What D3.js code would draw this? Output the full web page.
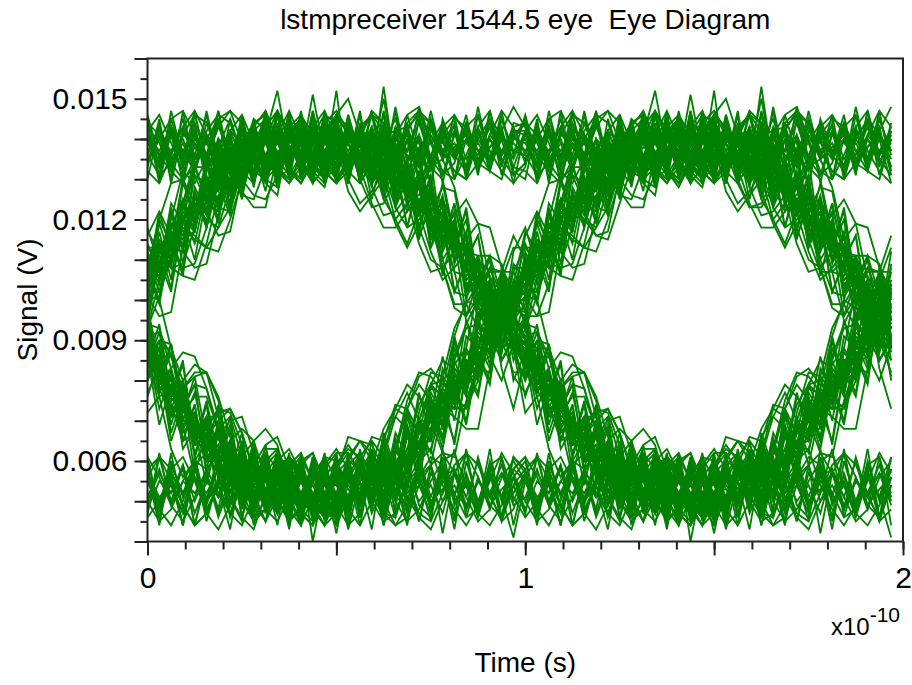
<!DOCTYPE html>
<html>
<head>
<meta charset="utf-8">
<script src="https://cdn.jsdelivr.net/npm/d3@7"></script>
<style>
  body { margin: 0; background: #fff; }
  svg { display: block; }
  text { font-family: "Liberation Sans", Arial, sans-serif; fill: #000; }
</style>
</head>
<body>
<svg id="chart" width="912" height="685"></svg>
<script>
// Receiver output waveform, one row per bit period, 32 samples per bit.
// Values in units of 0.1 mV (138 -> 0.0138 V).
const samplesPerBit = 32;
const bitTime = 1;            // bit period, in units of 1e-10 s
const valueUnit = 1e-4;       // volts per stored unit
const waveformRows = [
  [140,134,143,137,132,141,138,145,135,139,133,142,136,141,134,139,135,143,135,140,128,133,128,131,118,121,112,115,100,101,99,88],
  [90,78,79,68,72,63,68,56,58,49,59,52,56,49,55,59,50,57,49,57,55,65,58,68,68,68,81,79,92,89,99,96],
  [108,106,119,116,126,121,131,137,131,137,133,143,136,139,133,142,136,144,135,140,132,142,137,146,134,141,136,143,133,138,141,135],
  [142,136,132,141,139,134,144,135,140,137,143,133,138,135,143,137,140,134,143,133,135,126,133,124,127,114,116,103,108,98,100,90],
  [83,86,75,77,65,68,57,62,63,52,55,47,57,51,58,49,56,48,59,52,46,55,57,50,54,47,58,51,60,49,53,56],
  [48,55,52,59,50,57,46,54,58,51,56,47,55,57,50,54,55,48,58,53,62,57,63,61,75,71,80,77,88,95,93,105],
  [101,113,112,123,119,127,135,126,136,135,141,135,143,136,141,133,142,137,132,139,132,136,125,128,116,122,111,114,103,103,90,93],
  [84,85,72,76,68,70,59,54,59,59,52,59,49,55,48,56,49,56,53,60,54,58,66,60,72,71,82,78,88,88,102,99],
  [107,115,111,122,118,128,127,136,133,139,132,140,135,143,136,132,141,137,142,134,139,145,135,140,133,142,136,132,141,144,136,139],
  [135,140,133,142,138,136,144,134,141,137,143,132,140,135,151,136,139,133,141,142,134,140,137,144,135,131,141,139,136,143,134,140],
  [139,134,143,136,141,132,140,137,142,135,144,136,133,141,135,140,133,141,135,132,139,130,132,123,120,123,110,112,104,94,99,89],
  [89,79,81,67,71,62,67,56,60,53,49,57,52,59,50,54,49,56,51,58,47,55,52,57,48,61,50,54,46,56,51,58],
  [55,48,57,52,59,50,54,47,56,51,58,49,53,60,50,55,42,57,51,56,48,59,52,55,49,58,50,54,47,57,51,56],
  [50,57,52,58,47,55,51,59,49,54,56,48,55,52,57,49,58,51,57,51,59,57,67,64,65,77,75,85,81,93,93,104],
  [103,114,111,120,117,129,128,135,132,141,134,139,142,134,140,137,143,135,140,132,142,137,141,134,144,136,139,133,140,135,145,137],
  [136,143,134,139,132,141,137,142,135,144,133,140,137,142,135,139,139,134,140,134,139,128,131,121,126,117,117,105,107,97,96,96],
  [91,78,79,69,72,60,66,58,54,60,50,55,47,56,51,58,51,58,51,56,52,64,60,68,65,75,76,87,83,95,91,102],
  [109,107,116,113,123,129,125,136,132,140,136,133,141,135,144,136,134,140,142,133,136,129,133,121,125,115,113,113,101,105,93,94],
  [82,83,76,77,66,70,60,63,52,56,60,50,55,48,55,57,54,49,59,51,56,46,55,58,50,53,57,48,55,52,59,50],
  [57,51,54,47,58,50,55,52,60,49,56,51,48,55,50,58,50,55,50,60,56,63,57,67,73,70,78,80,91,87,99,98],
  [106,107,118,116,125,122,134,130,136,131,141,136,141,137,142,133,140,134,143,137,141,132,142,136,139,144,135,140,133,141,137,142],
  [134,141,137,143,135,140,132,142,139,136,144,134,141,137,133,140,142,135,139,136,150,134,140,137,143,135,138,141,132,140,136,142],
  [141,136,142,133,139,135,143,137,140,134,141,152,136,139,132,142,135,140,137,143,134,141,136,133,142,139,135,144,137,140,134,141],
  [137,142,135,140,133,144,136,139,134,141,132,143,138,140,134,141,141,136,138,141,130,133,126,130,121,114,119,107,108,97,97,90],
  [88,77,82,70,70,63,66,55,60,54,56,49,59,50,54,48,57,50,56,54,60,55,66,63,70,78,74,84,82,94,95,102],
  [102,112,109,122,120,129,125,133,133,141,134,140,136,143,137,134,140,135,141,131,137,130,131,122,127,116,117,104,106,104,93,88],
  [85,84,73,75,67,69,59,65,52,57,53,57,50,57,51,55,48,56,52,59,54,62,61,61,72,71,81,79,88,90,100,98],
  [110,108,117,114,124,125,133,128,135,134,142,134,140,136,141,134,144,135,139,133,141,137,142,136,132,140,143,135,139,134,141,137],
  [140,133,141,137,142,135,139,132,143,136,141,137,134,139,143,135,136,142,134,138,130,134,128,131,119,119,110,112,103,104,92,93],
  [87,78,81,71,72,60,64,56,62,54,57,47,55,52,58,49,56,51,58,47,54,57,50,60,48,55,52,56,49,59,51,41],
  [55,49,59,52,56,48,54,57,50,58,51,47,56,51,56,54,54,49,57,53,61,59,59,70,67,75,73,85,85,95,94,103],
  [103,113,110,119,126,123,131,126,137,135,141,136,143,134,140,137,141,133,139,134,138,128,130,122,124,121,112,113,100,102,94,94],
  [83,85,75,76,64,66,58,65,55,59,51,55,52,59,50,55,48,55,52,57,50,59,51,54,47,56,58,49,55,51,57,52],
  [57,50,54,47,56,52,58,49,55,51,60,48,54,56,50,52,57,43,55,58,51,53,49,56,59,50,54,48,55,52,57,49],
  [51,58,49,55,52,57,47,56,54,50,59,51,55,48,56,52,56,51,59,52,59,56,66,63,66,78,75,85,82,93,100,97],
  [108,109,110,123,120,128,124,135,131,138,136,142,134,141,136,143,137,141,133,138,131,136,127,129,117,120,113,112,101,102,93,95],
  [90,79,80,69,71,62,67,58,58,50,57,52,49,55,49,57,52,57,51,57,52,63,60,69,68,70,79,78,89,89,101,97],
  [101,112,119,115,123,124,132,127,136,135,141,135,141,133,139,142,136,142,135,139,132,143,137,141,134,140,136,144,135,138,142,133],
  [141,137,143,134,140,136,132,142,135,139,145,136,134,140,135,139,142,135,136,139,132,133,125,129,119,122,112,111,101,101,98,89],
  [83,84,75,78,65,67,59,64,56,57,49,56,51,58,51,49,55,50,55,59,55,63,58,67,67,76,74,87,84,88,98,104],
  [107,106,117,117,119,130,127,136,130,139,135,142,137,135,143,136,135,142,135,137,137,126,131,124,126,115,116,105,108,99,92,93],
  [89,79,81,70,70,61,64,57,62,54,51,57,51,51,57,48,57,51,57,50,59,59,66,62,71,69,80,81,90,89,99,99],
  [111,102,117,113,131,124,122,135,125,141,134,146,132,145,129,142,132,146,135,142,126,138,129,138,119,125,113,120,101,107,107,91],
  [96,79,89,73,79,60,68,57,67,49,59,52,62,45,58,50,62,47,55,43,60,50,58,45,57,52,63,46,56,48,61,44],
  [57,44,60,51,61,47,54,43,59,49,62,50,46,58,48,61,46,60,51,65,51,65,59,76,71,86,74,91,88,102,91,109],
  [105,122,112,125,117,136,129,140,128,141,133,147,135,144,130,141,129,143,135,146,132,148,134,140,128,145,137,142,131,147,133,144],
  [143,131,147,135,144,128,140,133,146,134,142,130,145,136,129,144,141,130,143,131,142,124,133,117,128,115,122,103,110,93,104,87],
  [80,90,73,80,61,70,59,68,48,59,48,60,51,61,49,44,59,45,62,49,58,48,67,58,73,63,78,69,86,79,100,93],
  [107,99,115,106,127,119,132,122,139,132,141,128,142,132,147,135,146,132,139,125,137,125,133,116,123,106,118,102,106,88,95,81],
  [77,83,65,74,62,69,51,61,49,62,48,56,43,59,51,62,46,57,44,59,51,61,48,56,45,63,49,55,47,60,50,58],
  [61,48,55,44,59,50,62,46,57,52,45,58,49,56,46,60,48,60,46,59,54,66,53,70,65,81,70,85,80,100,91,104],
  [97,114,108,125,119,131,120,137,132,144,130,141,133,147,134,140,132,146,136,143,129,141,133,148,135,144,130,140,134,145,131,142],
  [142,130,145,135,147,132,140,128,143,136,146,133,141,131,144,134,152,130,139,132,147,135,143,129,145,137,142,131,146,133,140,129],
  [133,145,129,142,136,146,132,141,130,144,134,147,135,143,131,140,131,143,129,143,132,142,128,136,118,126,112,123,104,111,92,98],
  [97,81,89,70,77,63,74,59,52,62,51,61,51,44,57,50,61,48,60,48,67,58,68,61,79,72,91,79,95,90,108,102],
  [114,107,124,119,134,124,138,128,139,128,143,134,147,130,142,136,144,129,141,130,143,127,134,118,129,113,120,102,109,92,100,85],
  [93,77,83,65,74,58,70,55,61,46,61,50,59,49,61,47,58,44,60,50,62,47,55,45,59,42,57,48,61,51,46,56],
  [47,62,49,59,44,56,51,61,46,58,50,63,48,57,45,55,49,61,46,59,46,63,57,69,59,73,65,83,77,94,87,103],
  [94,110,102,121,114,128,119,137,126,137,127,143,134,146,133,143,131,143,132,142,125,134,118,129,115,120,102,109,95,102,85,91],
  [86,69,79,65,74,57,63,50,63,48,57,44,60,50,59,45,60,48,62,49,61,52,71,61,75,66,82,76,94,86,100,93],
  [110,104,122,109,128,122,136,123,138,131,146,132,141,131,143,129,145,134,147,130,141,132,146,136,144,129,142,133,148,135,143,131],
  [134,144,130,147,133,141,129,145,136,143,131,146,135,144,134,130,146,132,142,128,143,129,140,123,131,114,124,110,116,96,105,90],
  [84,92,76,85,64,74,61,69,54,65,50,57,45,60,47,57,45,59,50,62,48,55,44,60,49,58,46,63,47,57,51,61],
  [58,46,56,44,61,49,59,51,45,62,48,57,47,60,40,55,50,61,47,58,44,56,60,49,46,59,51,62,48,57,45,54],
  [47,61,50,59,44,57,48,62,46,56,49,60,51,45,58,49,59,47,59,49,65,56,72,64,76,68,88,82,99,90,105,97],
  [103,120,114,130,120,134,123,138,127,143,135,146,133,142,129,145,133,145,129,141,128,139,125,132,113,125,109,117,99,104,88,97],
  [81,88,71,77,61,71,59,65,50,64,50,59,45,58,50,61,45,58,49,63,49,60,53,68,62,77,64,82,76,93,87,102],
  [108,100,116,107,127,118,129,121,138,129,140,128,144,133,146,135,143,129,144,134,146,131,140,133,147,135,144,130,142,132,145,136],
  [146,135,143,129,142,132,147,134,144,130,141,133,145,132,141,129,143,129,143,129,140,123,130,115,126,110,115,96,105,92,98,80],
  [87,73,81,63,68,54,67,52,64,47,57,47,61,49,60,46,57,47,63,50,64,52,67,56,75,69,85,77,89,83,102,97],
  [101,117,105,124,117,134,123,140,130,141,129,144,131,143,130,147,135,144,130,142,133,147,131,141,129,143,136,146,132,145,134,140],
  [145,133,141,130,144,136,147,131,142,129,143,134,146,131,142,136,134,144,130,142,129,143,126,135,117,129,114,122,103,110,93,99],
  [85,94,76,84,64,75,61,71,53,62,47,58,50,62,48,56,48,61,49,60,52,67,61,77,66,83,77,95,83,100,94,112],
  [118,108,123,113,133,125,137,126,145,132,141,131,143,135,145,132,145,133,146,129,138,123,135,122,130,112,119,100,111,95,103,88],
  [80,86,69,79,65,74,55,64,52,63,48,60,44,59,46,55,49,62,46,58,44,56,47,61,51,59,45,57,48,63,46,56],
  [60,48,57,44,59,50,61,46,55,47,62,49,58,44,57,51,58,46,61,48,59,52,67,54,74,65,79,70,87,80,99,91],
  [95,113,103,120,110,126,120,136,128,142,130,142,130,144,134,146,131,143,135,147,132,142,129,145,134,140,130,144,133,147,136,143],
  [144,129,142,133,146,135,145,131,140,134,147,132,143,130,141,136,145,129,142,132,153,133,144,130,141,135,146,131,143,134,147,132],
  [130,143,136,145,132,147,134,141,129,144,133,146,135,142,132,145,132,145,131,141,127,135,118,131,113,120,102,110,96,103,85,90],
  [76,85,67,76,57,67,51,63,51,61,47,62,46,58,50,60,44,59,49,61,47,56,45,62,48,57,43,60,50,58,46,61],
  [57,46,62,48,59,45,56,49,61,44,58,51,60,47,61,50,59,45,59,51,66,54,69,60,73,65,83,79,94,84,101,94],
  [112,105,122,112,126,118,135,124,143,132,142,129,144,134,147,133,144,131,143,133,144,128,135,124,135,114,124,110,116,99,105,88],
  [95,79,87,72,81,65,72,54,65,51,64,49,56,46,59,49,60,50,61,49,65,55,73,63,77,72,90,77,97,92,107,100],
  [104,119,110,129,122,135,122,139,133,145,132,142,131,146,133,141,133,144,129,143,131,139,123,131,115,124,110,116,100,104,89,96],
  [90,88,74,65,67,71,71,61,52,46,50,56,61,58,52,46,47,51,58,62,57,51,49,57,68,73,71,68,68,83,93,95],
  [93,105,113,112,108,109,121,130,138,134,130,128,139,145,142,135,130,133,140,147,144,137,131,129,136,143,146,141,134,132,142,148],
  [143,139,132,129,135,142,146,144,136,131,134,141,147,140,133,130,133,139,142,136,127,119,113,119,120,118,107,95,87,88,90,88],
  [72,76,78,69,56,51,55,62,59,50,45,54,59,62,55,49,44,51,61,65,61,56,57,72,82,81,77,79,93,104,98,99],
  [116,122,116,115,117,132,138,139,132,129,140,147,142,135,130,139,146,141,133,129,135,142,143,135,123,118,121,125,119,105,96,102],
  [98,85,77,80,84,82,71,60,54,57,63,63,52,47,44,50,58,62,57,50,45,47,55,60,63,54,48,44,49,59,61,51],
  [46,50,58,61,55,47,43,49,57,62,59,51,45,48,56,61,60,53,49,55,65,74,73,67,68,81,93,99,93,93,107,116],
  [110,109,120,132,138,134,129,128,136,145,142,132,129,136,143,147,140,132,129,134,141,142,132,122,122,128,127,112,101,108,107,90],
  [85,90,89,75,64,64,68,71,61,50,52,60,63,57,48,44,51,59,62,56,47,46,56,65,70,62,61,75,84,86,80,89],
  [101,96,97,113,122,122,116,117,131,138,139,133,129,133,141,146,144,139,134,129,133,141,146,148,140,132,130,136,143,147,135,131],
  [134,140,145,147,141,133,129,132,139,144,146,135,131,136,144,142,130,133,139,140,131,120,114,122,122,108,98,96,101,100,83,73],
  [85,76,63,56,60,65,66,57,50,45,48,57,61,56,49,44,47,55,61,58,50,44,46,54,59,62,57,51,45,48,56,60],
  [55,48,44,50,59,62,57,51,46,43,52,58,61,56,50,46,48,56,62,57,51,51,59,70,78,77,73,74,84,97,105,101],
  [102,102,110,123,131,129,123,122,132,142,145,139,133,130,136,144,147,142,135,130,131,138,141,139,128,119,113,115,119,118,108,95],
  [93,84,77,78,81,82,75,61,54,55,60,63,56,47,44,51,59,64,60,54,54,63,75,82,81,77,77,88,103,108,101,104],
  [117,112,113,124,135,139,133,129,133,143,147,140,132,129,134,141,146,143,136,131,129,135,142,147,144,137,132,130,140,145,141,133],
  [132,129,136,143,147,141,134,130,137,144,146,140,133,129,135,142,146,150,141,133,130,136,144,147,139,131,134,143,146,137,132,129],
  [142,146,139,132,129,135,143,147,144,136,130,133,141,145,140,134,130,135,143,146,138,128,122,128,133,130,116,107,105,111,109,98],
  [96,83,73,73,79,78,67,56,51,55,62,58,48,44,51,59,63,58,52,52,61,71,77,70,70,78,91,100,98,94,96,108],
  [108,120,129,130,124,122,131,142,146,139,131,134,143,146,141,132,129,134,141,146,142,134,126,126,133,135,128,115,107,100,107,107],
  [101,100,88,76,68,69,72,73,67,57,49,49,55,60,62,55,49,44,47,56,61,58,51,46,43,50,57,62,59,52,45,48],
  [56,61,58,49,44,47,55,60,62,54,48,45,51,59,62,52,46,51,59,66,65,58,56,67,79,85,83,80,82,93,105,113],
  [113,109,110,124,133,133,128,127,137,143,136,132,143,140,134,131,139,140,140,128,121,122,126,128,122,110,102,101,105,106,99,88],
  [84,88,88,80,69,63,66,70,71,62,53,54,57,50,47,56,60,54,50,55,66,71,68,63,63,73,84,88,83,82,95,104],
  [104,111,108,106,105,114,126,130,127,123,123,136,142,138,131,128,139,127,122,126,130,131,125,114,107,108,112,111,102,91,85,90],
  [89,78,71,72,76,76,68,59,53,54,59,62,54,48,45,50,57,60,58,51,47,44,49,56,61,59,52,46,48,55,62,57],
  [50,45,48,55,60,58,52,47,44,51,57,61,57,52,48,50,59,63,61,57,55,62,73,79,75,73,73,83,94,100,99,95],
  [99,109,118,118,115,113,118,128,135,134,129,126,141,145,139,132,129,135,142,146,144,136,131,129,134,141,145,143,137,132,130,140],
  [144,141,134,130,133,140,145,147,139,132,130,136,142,145,136,131,134,139,142,135,125,120,124,129,127,116,107,106,111,111,101,90],
  [87,80,83,87,86,78,68,61,61,65,68,64,53,48,50,58,62,62,57,55,62,73,79,76,72,73,86,94,100,94,94,107],
  [113,113,108,109,118,128,134,132,126,125,133,141,144,139,132,129,138,139,130,123,124,130,131,122,112,105,108,112,111,102,89,89],
  [94,93,83,73,66,68,73,72,64,55,55,60,60,55,49,46,52,61,65,62,57,56,63,74,79,76,73,73,82,92,99,95],
  [93,101,111,118,116,113,112,120,130,136,136,131,132,129,135,142,145,142,136,131,129,135,143,146,144,137,132,130,134,141,147,143],
  [136,131,134,141,146,144,137,132,129,135,143,147,140,134,129,133,141,139,133,124,118,118,122,125,119,108,99,99,104,103,90,82],
  [82,86,86,78,67,60,60,65,68,65,56,50,45,49,56,61,55,48,44,50,57,60,55,47,45,52,59,62,56,49,46,54],
  [58,61,55,49,44,47,54,60,57,50,45,51,60,56,51,47,52,53,51,59,68,73,71,67,67,75,85,93,94,90,89,101],
  [107,114,113,108,109,118,129,134,130,126,125,131,141,144,138,132,129,132,139,140,132,123,118,120,124,125,118,108,99,98,102,102],
  [94,83,77,78,82,82,76,66,58,59,64,66,58,52,47,50,57,66,65,60,57,63,73,81,83,79,77,82,95,104,103,100],
  [100,108,118,125,124,120,118,123,133,139,139,133,130,134,141,144,139,130,124,127,132,134,128,118,110,108,112,113,109,96,88,90],
  [91,92,86,76,67,66,70,73,67,58,51,53,58,61,55,49,46,51,57,61,59,50,45,48,55,60,62,54,47,44,49,58],
  [61,56,49,45,51,58,62,57,50,46,48,55,61,57,50,46,51,60,65,64,58,56,61,70,79,80,76,73,80,91,99,98],
  [96,96,104,115,121,120,116,115,124,133,138,136,132,128,134,142,145,137,129,123,123,128,130,125,115,107,107,110,111,102,90,85]
];

// Axis settings
const xDomain = [0, 2];
const yDomain = [0.004, 0.016];
const xMinorTicks = d3.range(0, 21).map(i => i / 10);
const xMajorTicks = [0, 0.5, 1, 1.5, 2];
const xLabelTicks = [0, 1, 2];
const yMinorTicks = d3.range(8, 33).map(i => i * 0.0005);
const yMajorTicks = d3.range(4, 17).map(i => i * 0.001);
const yLabelTicks = [0.006, 0.009, 0.012, 0.015];

const titleText = "lstmpreceiver 1544.5 eye  Eye Diagram";
const xTitle = "Time (s)";
const yTitle = "Signal (V)";

const titleSize = 28;
const tickSize = 30;
const svg = d3.select("#chart");
const plot = { left: 147.5, right: 903, top: 58.5, bottom: 541.5 };

const x = d3.scaleLinear().domain(xDomain).range([plot.left, plot.right]);
const y = d3.scaleLinear().domain(yDomain).range([plot.bottom, plot.top]);

// Each trace spans two consecutive bit periods; one trace starts at every bit
const traces = [];
for (let k = 0; k + 1 < waveformRows.length; k++) {
  const samples = waveformRows[k].concat(waveformRows[k + 1]);
  traces.push(samples.map((v, i) => [i * bitTime / samplesPerBit, v * valueUnit]));
}

svg.append("defs").append("clipPath").attr("id", "plotClip")
  .append("rect")
  .attr("x", plot.left).attr("y", plot.top)
  .attr("width", plot.right - plot.left).attr("height", plot.bottom - plot.top);

const line = d3.line().x(d => x(d[0])).y(d => y(d[1]));

svg.append("g").attr("clip-path", "url(#plotClip)")
  .selectAll("path").data(traces).join("path")
  .attr("d", line)
  .attr("fill", "none")
  .attr("stroke", "#008000")
  .attr("stroke-width", 1.8)
  .attr("stroke-linejoin", "miter");

// Axes
const axisColor = "#222";
function styleAxis(g) {
  g.select(".domain").remove();
  g.selectAll(".tick line").attr("stroke", axisColor).attr("stroke-width", 2);
  g.selectAll(".tick text").style("font-size", tickSize + "px").attr("fill", "#000");
}

svg.append("g").attr("transform", `translate(0,${plot.bottom})`)
  .call(d3.axisBottom(x).tickValues(xMinorTicks).tickSize(8).tickFormat(""))
  .call(styleAxis);
svg.append("g").attr("transform", `translate(0,${plot.bottom})`)
  .call(d3.axisBottom(x).tickValues(xMajorTicks).tickSize(14).tickPadding(11)
    .tickFormat(d => xLabelTicks.includes(d) ? d3.format("d")(d) : ""))
  .call(styleAxis);

svg.append("g").attr("transform", `translate(${plot.left},0)`)
  .call(d3.axisLeft(y).tickValues(yMinorTicks).tickSize(7).tickFormat(""))
  .call(styleAxis);
svg.append("g").attr("transform", `translate(${plot.left},0)`)
  .call(d3.axisLeft(y).tickValues(yMajorTicks).tickSize(13).tickPadding(7)
    .tickFormat(d => yLabelTicks.some(v => Math.abs(v - d) < 1e-9) ? d3.format(".3f")(d) : ""))
  .call(styleAxis);

// Plot frame
svg.append("rect")
  .attr("x", plot.left).attr("y", plot.top)
  .attr("width", plot.right - plot.left).attr("height", plot.bottom - plot.top)
  .attr("fill", "none").attr("stroke", axisColor).attr("stroke-width", 2);

// Titles
svg.append("text").attr("x", (plot.left + plot.right) / 2).attr("y", 29)
  .attr("text-anchor", "middle").style("font-size", titleSize + "px")
  .style("white-space", "pre").text(titleText);

svg.append("text").attr("x", (plot.left + plot.right) / 2).attr("y", 672)
  .attr("text-anchor", "middle").style("font-size", titleSize + "px").text(xTitle);

svg.append("text")
  .attr("transform", `translate(37,${(plot.top + plot.bottom) / 2}) rotate(-90)`)
  .attr("text-anchor", "middle").style("font-size", titleSize + "px").text(yTitle);

// Exponent label for the time axis
const expLabel = svg.append("text").attr("x", 900).attr("y", 635)
  .attr("text-anchor", "end").style("font-size", "24px");
expLabel.append("tspan").text("x10");
expLabel.append("tspan").attr("dy", -13).style("font-size", "21px").text("-10");
</script>
</body>
</html>
